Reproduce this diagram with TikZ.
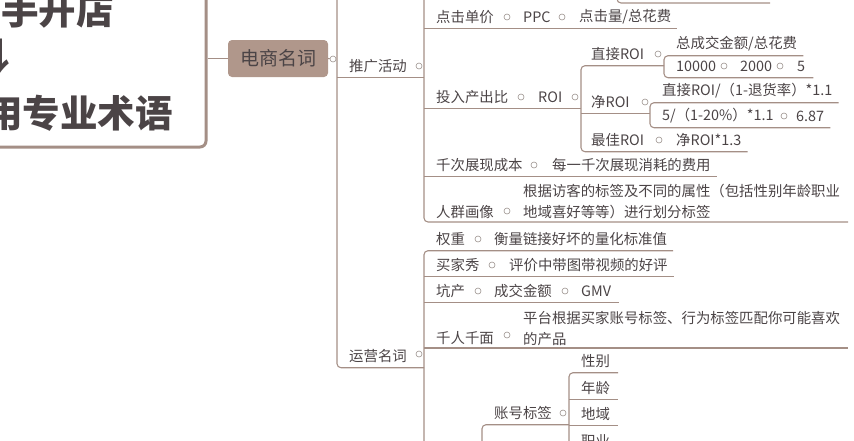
\documentclass[tikz,border=0pt]{standalone}
\usepackage{fontspec}
\setmainfont{Noto Sans CJK SC}
\definecolor{ink}{HTML}{4B4446}
\definecolor{linec}{HTML}{A48F86}
\definecolor{topicfill}{HTML}{B0978B}
\definecolor{dotc}{HTML}{9C928E}
\newcommand{\leaffont}{\fontsize{14.4pt}{21pt}\selectfont}
\newcommand{\topicfont}{\fontsize{19pt}{22pt}\selectfont}
\newcommand{\boxfont}{\fontsize{37.5pt}{40pt}\selectfont\bfseries}

\begin{document}
\begin{tikzpicture}[x=1pt, y=-1pt,
  t/.style={font=\leaffont, text=ink, inner xsep=0pt, inner ysep=0pt, minimum height=23pt, anchor=west},
  tt/.style={font=\leaffont, text=ink, inner xsep=0pt, inner ysep=2.5pt, align=left, anchor=south west},
  dot/.style={circle, draw=dotc, fill=white, line width=0.6pt, inner sep=0pt, minimum size=6pt},
  link/.style={draw=linec, line width=1.1pt, rounded corners=4pt},
  topic/.style={fill=topicfill, rounded corners=4pt, font=\topicfont, text=ink,
    minimum width=100pt, minimum height=37pt, inner sep=0pt},
  bigbox/.style={draw=linec, line width=3pt, rounded corners=6pt, minimum width=266pt,
    minimum height=190pt, inner sep=0pt},
  big/.style={font=\boxfont, text=ink, inner sep=0pt, anchor=west}
]
\useasboundingbox (0,0) rectangle (854,440);
\clip (0,0) rectangle (854,440);

\node[bigbox] (box) at (73,52) {};
\node[big] (l1) at (1,10) {手开店};
\node[big, anchor=center] (l2) at (0,56) {↓};
\node[big] (l3) at (-15,113) {用专业术语};

\node[topic] (dsmc) at (278,58.5) {电商名词};
\draw[link] (box.east |- dsmc.west) -- (dsmc.west);
\node[dot] (dsmc-o) at (333,59) {};
\draw[link] (dsmc.east) -- (dsmc-o);

\coordinate (trunk) at (337,-10);
\coordinate (tgbus) at (424,-10);
\coordinate (yybus) at (424,250);
\coordinate (yyend) at (424,460);
\coordinate (roibus) at (581,0);
\coordinate (zjbus) at (664,0);
\coordinate (jingbus) at (650,0);
\coordinate (zhbox) at (482,460);
\coordinate (zhbus) at (569,0);
\coordinate (zhend) at (569,460);
\coordinate (stub-a) at (617,-10);
\coordinate (stub-b) at (770,3);

\node[t] (tg) at (349,66) {推广活动};
\node[dot] (tg-o) at (419,66) {};
\node[t] (yy) at (349,356) {运营名词};
\node[dot] (yy-o) at (419,354) {};
\draw[link] (trunk) |- (yybus |- yy.south);
\draw[link] (trunk |- tg.south) -- (tgbus |- tg.south);
\draw[link] (stub-a) |- (stub-b);

\node[t] (dj) at (436,17) {点击单价};
\node[dot] (dj-o) at (507,17) {};
\node[t] (ppc) at (523,17) {PPC};
\node[dot] (ppc-o) at (562,17) {};
\node[t] (ppc-c) at (579,17) {点击量/总花费};
\draw[link] (tgbus |- dj.south) -- ([xshift=6pt]ppc-c.south east);

\node[t] (tr) at (436,97) {投入产出比};
\node[dot] (tr-o) at (521,97) {};
\node[t] (roi) at (538,97) {ROI};
\node[dot] (roi-o) at (575,97) {};
\draw[link] (tgbus |- tr.south) -- (roibus |- tr.south);

\node[t] (zj) at (591,54) {直接ROI};
\node[dot] (zj-o) at (658,54) {};
\node[t] (zjf) at (676,44) {总成交金额/总花费};
\node[t] (n1) at (676,66) {10000};
\node[dot] (n1-o) at (724,66) {};
\node[t] (n2) at (740,66) {2000};
\node[dot] (n2-o) at (780,66) {};
\node[t] (n3) at (797,66) {5};
\draw[link] ([xshift=6pt]zjf.south east) -| (zjbus |- n3.south) -- ([xshift=8pt]n3.south east);

\node[t] (jing) at (591,102) {净ROI};
\node[dot] (jing-o) at (645,102) {};
\draw[link] (roibus |- jing.south) -- (jingbus |- jing.south);
\node[t] (jf) at (662,91) {直接ROI/（1-退货率）*1.1};
\node[t] (jv) at (662,116) {5/（1-20\%）*1.1};
\node[dot] (jv-o) at (784,116) {};
\node[t] (jr) at (796,116) {6.87};
\draw[link] ([xshift=6pt]jf.south east) -| (jingbus |- jr.south) -- ([xshift=6pt]jr.south east);

\node[t] (zuijia) at (591,140) {最佳ROI};
\node[dot] (zuijia-o) at (659,140) {};
\node[t] (zuijia-c) at (676,140) {净ROI*1.3};
\draw[link] (zjbus |- zj.south) -| (roibus |- zuijia.south) -- ([xshift=6pt]zuijia-c.south east);

\node[t] (qc) at (436,165) {千次展现成本};
\node[dot] (qc-o) at (534,165) {};
\node[t] (qc-c) at (552,165) {每一千次展现消耗的费用};
\draw[link] (tgbus |- qc.south) -- ([xshift=6pt]qc-c.south east);

\node[t] (rq) at (436,212) {人群画像};
\node[dot] (rq-o) at (507,211) {};
\node[tt] (rq-c) at (523,222) {根据访客的标签及不同的属性（包括性别年龄职业\\地域喜好等等）进行划分标签};
\draw[link] (tgbus) |- ([xshift=8pt]rq-c.south east);

\node[t] (qz) at (436,239) {权重};
\node[dot] (qz-o) at (478,239) {};
\node[t] (qz-c) at (494,239) {衡量链接好坏的量化标准值};
\draw[link] ([xshift=6pt]qz-c.south east) -| (yyend);

\node[t] (mjx) at (436,265) {买家秀};
\node[dot] (mjx-o) at (492,265) {};
\node[t] (mjx-c) at (509,265) {评价中带图带视频的好评};
\draw[link] (yybus |- mjx.south) -- ([xshift=6pt]mjx-c.south east);

\node[t] (kc) at (436,291) {坑产};
\node[dot] (kc-o) at (478,291) {};
\node[t] (kc-c) at (494,291) {成交金额};
\node[dot] (kc-c-o) at (565,291) {};
\node[t] (gmv) at (581,291) {GMV};
\draw[link] (yybus |- kc.south) -- ([xshift=8pt]gmv.south east);

\node[t] (qrqm) at (436,338) {千人千面};
\node[dot] (qrqm-o) at (507,335) {};
\node[tt] (qrqm-c) at (523,348) {平台根据买家账号标签、行为标签匹配你可能喜欢\\的产品};
\draw[link] (yybus |- qrqm-c.south) -- ([xshift=8pt]qrqm-c.south east);

\node[t] (zh) at (494,413) {账号标签};
\node[dot] (zh-o) at (563,413) {};
\draw[link] (zhbox) |- (zhbus |- zh.south);
\node[t] (xb) at (581,361) {性别};
\node[t] (nl) at (581,388) {年龄};
\node[t] (dy) at (581,414) {地域};
\node[t] (zy) at (581,441) {职业};
\draw[link] ([xshift=8pt]xb.south east) -| (zhend);
\draw[link] (zhbus |- nl.south) -- ([xshift=8pt]nl.south east);
\draw[link] (zhbus |- dy.south) -- ([xshift=8pt]dy.south east);
\end{tikzpicture}
\end{document}
